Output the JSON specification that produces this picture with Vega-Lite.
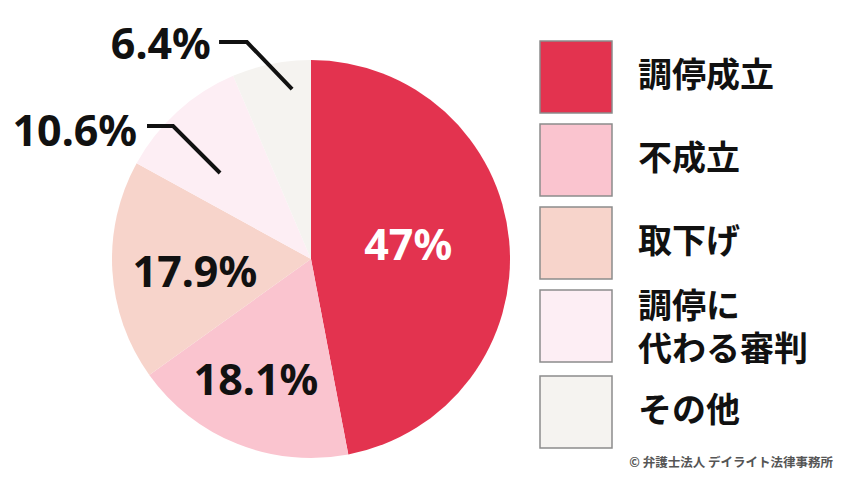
{
  "$schema": "https://vega.github.io/schema/vega-lite/v6.json",
  "width": 622,
  "height": 438,
  "autosize": {"type": "none"},
  "padding": {"left": 0, "top": 40, "right": 228, "bottom": 0},
  "background": "white",
  "config": {"view": {"stroke": null}},
  "datasets": {
    "shares": [
      {"idx": 1, "cat": "調停成立", "value": 47, "label": "47%"},
      {"idx": 2, "cat": "不成立", "value": 18.1, "label": "18.1%"},
      {"idx": 3, "cat": "取下げ", "value": 17.9, "label": "17.9%"},
      {"idx": 4, "cat": "調停に代わる審判", "value": 10.6, "label": "10.6%"},
      {"idx": 5, "cat": "その他", "value": 6.4, "label": "6.4%"}
    ],
    "leaders": [
      {"cat": "その他", "step": 1, "x": -0.462, "y": 1.090},
      {"cat": "その他", "step": 2, "x": -0.322, "y": 1.090},
      {"cat": "その他", "step": 3, "x": -0.095, "y": 0.854},
      {"cat": "調停に代わる審判", "step": 1, "x": -0.824, "y": 0.668},
      {"cat": "調停に代わる審判", "step": 2, "x": -0.693, "y": 0.668},
      {"cat": "調停に代わる審判", "step": 3, "x": -0.457, "y": 0.432}
    ],
    "credit": [
      {"note": "© 弁護士法人 デイライト法律事務所"}
    ]
  },
  "data": {"name": "shares"},
  "layer": [
    {
      "mark": {"type": "arc", "radius": 199},
      "encoding": {
        "theta": {"field": "value", "type": "quantitative", "stack": true},
        "order": {"field": "idx", "type": "quantitative"},
        "color": {
          "field": "cat",
          "type": "nominal",
          "scale": {
            "domain": ["調停成立", "不成立", "取下げ", "調停に代わる審判", "その他"],
            "range": ["#E3334F", "#FAC4CF", "#F7D4CB", "#FDEEF4", "#F5F3F0"]
          },
          "legend": {
            "orient": "none",
            "legendX": 539,
            "legendY": 0,
            "title": null,
            "padding": 0,
            "symbolType": "square",
            "symbolSize": 5184,
            "symbolStrokeColor": "#8c8c8c",
            "symbolStrokeWidth": 1.5,
            "symbolOpacity": 1,
            "labelFont": "Noto Sans CJK JP",
            "labelFontSize": 34,
            "labelFontWeight": "bold",
            "labelColor": "#111111",
            "labelOffset": 25,
            "labelLimit": 300,
            "rowPadding": 5,
            "labelExpr": "datum.label === '調停に代わる審判' ? ['調停に', '代わる審判'] : datum.label",
            "encode": {
              "labels": {
                "update": {
                  "lineHeight": {"value": 43},
                  "dy": {"signal": "datum.value === '調停に代わる審判' ? -18 : 0"}
                }
              }
            }
          }
        }
      }
    },
    {
      "mark": {"type": "text", "radius": 98, "thetaOffset": -0.033, "font": "Noto Sans", "fontSize": 43, "fontWeight": "bold", "fill": "#ffffff", "align": "center", "baseline": "middle"},
      "encoding": {
        "theta": {"field": "value", "type": "quantitative", "stack": true},
        "order": {"field": "idx", "type": "quantitative"},
        "text": {"condition": {"test": "datum.cat === '調停成立'", "field": "label"}, "value": ""}
      }
    },
    {
      "mark": {"type": "text", "radius": 135, "thetaOffset": 0.04, "font": "Noto Sans", "fontSize": 43, "fontWeight": "bold", "fill": "#111111", "align": "center", "baseline": "middle"},
      "encoding": {
        "theta": {"field": "value", "type": "quantitative", "stack": true},
        "order": {"field": "idx", "type": "quantitative"},
        "text": {"condition": {"test": "datum.cat === '不成立'", "field": "label"}, "value": ""}
      }
    },
    {
      "mark": {"type": "text", "radius": 117, "thetaOffset": -0.065, "font": "Noto Sans", "fontSize": 43, "fontWeight": "bold", "fill": "#111111", "align": "center", "baseline": "middle"},
      "encoding": {
        "theta": {"field": "value", "type": "quantitative", "stack": true},
        "order": {"field": "idx", "type": "quantitative"},
        "text": {"condition": {"test": "datum.cat === '取下げ'", "field": "label"}, "value": ""}
      }
    },
    {
      "mark": {"type": "text", "radius": 215, "thetaOffset": -0.207, "font": "Noto Sans", "fontSize": 43, "fontWeight": "bold", "fill": "#111111", "align": "right", "baseline": "middle"},
      "encoding": {
        "theta": {"field": "value", "type": "quantitative", "stack": true},
        "order": {"field": "idx", "type": "quantitative"},
        "text": {"condition": {"test": "datum.cat === '調停に代わる審判'", "field": "label"}, "value": ""}
      }
    },
    {
      "mark": {"type": "text", "radius": 235, "thetaOffset": -0.239, "font": "Noto Sans", "fontSize": 43, "fontWeight": "bold", "fill": "#111111", "align": "right", "baseline": "middle"},
      "encoding": {
        "theta": {"field": "value", "type": "quantitative", "stack": true},
        "order": {"field": "idx", "type": "quantitative"},
        "text": {"condition": {"test": "datum.cat === 'その他'", "field": "label"}, "value": ""}
      }
    },
    {
      "data": {"name": "leaders"},
      "mark": {"type": "line", "color": "#111111", "strokeWidth": 4, "strokeCap": "butt", "strokeJoin": "miter"},
      "encoding": {
        "x": {"field": "x", "type": "quantitative", "scale": {"domain": [-1.5628, 1.5628], "nice": false, "zero": false}, "axis": null},
        "y": {"field": "y", "type": "quantitative", "scale": {"domain": [-1.1005, 1.1005], "nice": false, "zero": false}, "axis": null},
        "detail": {"field": "cat", "type": "nominal"},
        "order": {"field": "step", "type": "quantitative"}
      }
    },
    {
      "data": {"name": "credit"},
      "mark": {"type": "text", "align": "right", "baseline": "middle", "font": "Noto Sans CJK JP", "fontSize": 12.5, "fontWeight": "bold", "fill": "#555555"},
      "encoding": {
        "x": {"datum": 2.623, "type": "quantitative"},
        "y": {"datum": -1.025, "type": "quantitative"},
        "text": {"field": "note"}
      }
    }
  ]
}
